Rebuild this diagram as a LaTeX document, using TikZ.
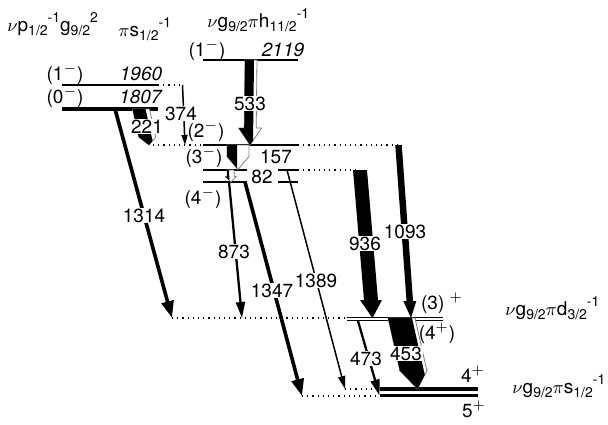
\documentclass[tikz,border=0pt]{standalone}
\usepackage{fontspec}
\setmainfont{TeX Gyre Heros}
\usetikzlibrary{arrows.meta}
% sub- and superscripts set in the text font
\newcommand\lowtxt[1]{\raisebox{-0.45ex}{\fontsize{7}{7}\selectfont #1}}
\newcommand\uptxt[1]{\raisebox{0.9ex}{\fontsize{7}{7}\selectfont #1}}
% wide gamma: top centre, tip, black width, white width, head half-width, head length
\newcommand\gam[8]{%
  \pgfmathsetmacro\gamS{(#3-(#1))/(#4-(#2))}%
  \pgfmathsetmacro\gamW{(#5)+(#6)}%
  \pgfmathsetmacro\gamY{(#4)-(#8)}%
  \pgfmathsetmacro\gamX{(#1)+\gamS*(\gamY-(#2))}%
  \ifdim #6pt>0pt
    \filldraw[fill=white, draw=gray, line width=0.4pt] ({#1-\gamW/2},#2) -- ({#1+\gamW/2},#2) -- ({\gamX+\gamW/2},\gamY) -- ({\gamX+#7},\gamY) -- (#3,#4) -- ({\gamX-#7},\gamY) -- ({\gamX-\gamW/2},\gamY) -- cycle;
    \begin{scope}
      \clip ({#1-\gamW/2+#5-2*\gamS},{#2-2}) -- ({#1-\gamW/2+#5+\gamS*(#4+2-(#2))},{#4+2}) -- ({#1-100},{#4+2}) -- ({#1-100},{#2-2}) -- cycle;
      \fill ({#1-\gamW/2},#2) -- ({#1+\gamW/2},#2) -- ({\gamX+\gamW/2},\gamY) -- ({\gamX+#7},\gamY) -- (#3,#4) -- ({\gamX-#7},\gamY) -- ({\gamX-\gamW/2},\gamY) -- cycle;
    \end{scope}
  \else
    \fill ({#1-\gamW/2},#2) -- ({#1+\gamW/2},#2) -- ({\gamX+\gamW/2},\gamY) -- ({\gamX+#7},\gamY) -- (#3,#4) -- ({\gamX-#7},\gamY) -- ({\gamX-\gamW/2},\gamY) -- cycle;
  \fi}
\begin{document}
\begin{tikzpicture}[x=0.5pt, y=-0.5pt, font=\fontsize{9.5}{11}\selectfont, line join=round,
  lvl/.style={line width=0.65pt},
  lvlthick/.style={line width=1.8pt},
  feed/.style={dotted, line width=0.6pt},
  lab/.style={anchor=base, inner sep=0.5pt},
  elab/.style={anchor=base, inner sep=0.5pt, fill=white},
  head/.style={anchor=base west, inner sep=0pt},
  gthin/.style={line width=0.75pt, -{Triangle[length=6.5pt,width=3.5pt]}},
  gmid/.style={line width=1.15pt, -{Triangle[length=8pt,width=4.5pt]}},
  gfat/.style={line width=1.8pt, -{Triangle[length=8.5pt,width=6pt]}}]
\useasboundingbox (0,0) rectangle (608,424);
% levels
\draw[lvl] (203,60) -- (298,60);
\draw[lvl] (62,85) -- (158,85);
\draw[feed] (158,85) -- (183,85);
\draw[lvlthick] (62,109) -- (158,109);
\draw[lvl] (203,145) -- (298,145);
\draw[feed] (153,145) -- (203,145) (298,145) -- (398,145);
\draw[lvl] (203,170) -- (247,170) (278,170) -- (298,170);
\draw[feed] (298,170) -- (358,170);
\draw[lvl] (203,182) -- (247,182) (278,182) -- (298,182);
\draw[lvl] (347,317.5) -- (443,317.5) (347,320.5) -- (443,320.5);
\draw[feed] (172,318) -- (347,318);
\draw[lvlthick] (380,388.7) -- (478,388.7) (380,395.3) -- (478,395.3);
\draw[feed] (345,389) -- (380,389) (302,396) -- (380,396);
% transitions
\gam{251}{60}{250}{145}{9}{3}{11.5}{17}
\gam{238}{145}{238}{169.5}{10}{12}{11}{13}
\gam{230.5}{170}{231}{182}{2}{5}{5.5}{5.5}
\gam{141}{109}{149}{145}{13}{4}{8.5}{8}
\gam{360}{170}{372.5}{318}{14}{0}{11}{18}
\gam{398.5}{145}{411}{318}{6.5}{0}{6.5}{17}
\gam{401.5}{318}{417.5}{389}{24}{3}{14}{19}
\draw[gthin, -{Triangle[length=5pt,width=3pt]}] (182.5,85) -- (185,145);
\draw[gfat] (115,109) -- (172,318);
\draw[gfat] (245,182) -- (302,396);
\draw[gmid] (229,182) -- (242,318);
\draw[gthin] (287,170) -- (345,389);
\draw[gmid] (358,321) -- (379.5,395.5);
% energies
\node[elab] (e533) at (250,110) {533};
\node[elab] (e374) at (181,120) {374};
\node[elab] (e221) at (147,133) {221};
\node[lab] (e157) at (276,163) {157};
\node[lab] (e82) at (262,183) {82};
\node[elab] (e1314) at (144,222) {1314};
\node[elab] (e873) at (234,258) {873};
\node[elab] (e1347) at (272,297) {1347};
\node[elab] (e1389) at (316,287) {1389};
\node[elab] (e936) at (365,250) {936};
\node[elab] (e1093) at (405,238) {1093};
\node[elab] (e453) at (406,360) {453};
\node[elab] (e473) at (366,365) {473};
% spins and level energies
\node[lab] (s2119) at (207,56) {(1$^{-}$)};
\node[lab] (l2119) at (283,56) {\textit{2119}};
\node[lab] (s1960) at (65,80) {(1$^{-}$)};
\node[lab] (l1960) at (141,80) {\textit{1960}};
\node[lab] (s1807) at (65,103) {(0$^{-}$)};
\node[lab] (l1807) at (141,103) {\textit{1807}};
\node[lab] (s1586) at (206,137) {(2$^{-}$)};
\node[lab] (s1429) at (204,163) {(3$^{-}$)};
\node[lab] (s1347) at (203,204) {(4$^{-}$)};
\node[lab] (s493) at (442,309) {(3) $^{+}$};
\node[lab] (s473) at (437,339) {(4$^{+}$)};
\node[lab] (s40) at (473,382) {4$^{+}$};
\node[lab] (s0) at (474,417) {5$^{+}$};
% configurations
\node[head] (c1) at (7,31) {$\nu$p\lowtxt{1/2}\uptxt{-1}g\lowtxt{9/2}\uptxt{2}};
\node[head] (c2) at (118,36) {$\pi$s\lowtxt{1/2}\uptxt{-1}};
\node[head] (c3) at (207,27) {$\nu$g\lowtxt{9/2}$\pi$h\lowtxt{11/2}\uptxt{-1}};
\node[head] (c4) at (505,315) {$\nu$g\lowtxt{9/2}$\pi$d\lowtxt{3/2}\uptxt{-1}};
\node[head] (c5) at (512,393) {$\nu$g\lowtxt{9/2}$\pi$s\lowtxt{1/2}\uptxt{-1}};
\end{tikzpicture}
\end{document}
